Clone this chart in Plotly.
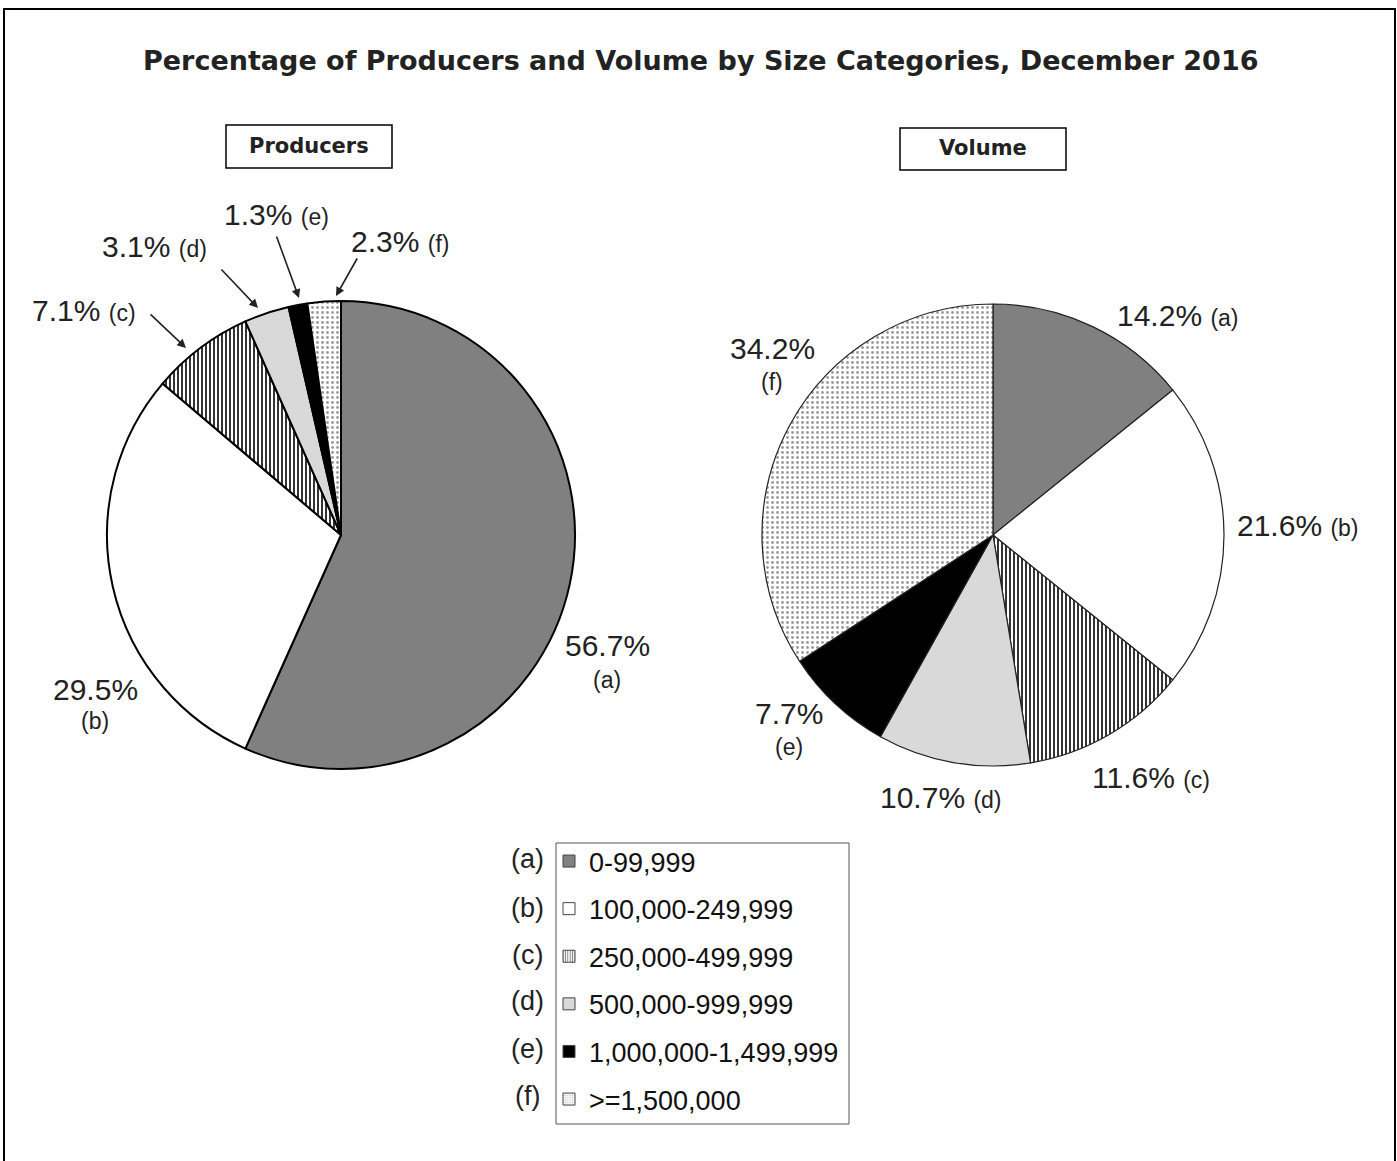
import plotly.graph_objects as go

W, H = 1397, 1161

# ---- data ----
letters = ["a", "b", "c", "d", "e", "f"]
size_labels = ["0-99,999", "100,000-249,999", "250,000-499,999",
               "500,000-999,999", "1,000,000-1,499,999", ">=1,500,000"]
producers_pct = [56.7, 29.5, 7.1, 3.1, 1.3, 2.3]
volume_pct = [14.2, 21.6, 11.6, 10.7, 7.7, 34.2]
chart_title = "Percentage of Producers and Volume by Size Categories, December 2016"
panel_titles = ["Producers", "Volume"]

# ---- styles ----
fill_colors = ["#808080", "#ffffff", "#ffffff", "#d9d9d9", "#000000", "#ffffff"]
pattern_shapes = ["", "", "|", "", "", "."]
pattern_fg = ["#000000", "#000000", "#000000", "#000000", "#000000", "#9a9a9a"]
pattern_size = [5, 5, 4, 5, 5, 5]
pattern_solid = [0.3, 0.3, 0.4, 0.3, 0.3, 0.25]
FONT = "Liberation Sans, Arial, sans-serif"
BOLD_FONT = "DejaVu Sans, Verdana, sans-serif"
TXT = "#222222"


def px(x):
    return x / W


def py(y):
    return 1 - y / H


def make_pie(values, cx, cy, r, lw, lc):
    return go.Pie(
        labels=size_labels, values=values, sort=False, direction="clockwise",
        rotation=0, textinfo="none", hoverinfo="label+percent", showlegend=False,
        domain=dict(x=[px(cx - r), px(cx + r)], y=[py(cy + r), py(cy - r)]),
        marker=dict(colors=fill_colors, line=dict(color=lc, width=lw),
                    pattern=dict(shape=pattern_shapes, fgcolor=pattern_fg,
                                 bgcolor=fill_colors, size=pattern_size,
                                 solidity=pattern_solid)),
    )


fig = go.Figure()
fig.add_trace(make_pie(producers_pct, 341, 535, 234, 2, "#000000"))
fig.add_trace(make_pie(volume_pct, 993, 535, 231, 1.2, "#222222"))

# legend entries (dummy bars so that item spacing can be controlled)
for i, lab in enumerate(size_labels):
    fig.add_trace(go.Bar(
        x=[None], y=[None], name=lab, legendgroup=lab, showlegend=True,
        hoverinfo="skip",
        marker=dict(color=fill_colors[i], line=dict(color="#444444", width=1),
                    pattern=dict(shape=pattern_shapes[i], fgcolor=pattern_fg[i],
                                 bgcolor=fill_colors[i], size=3, solidity=0.4)),
    ))

annotations = []
shapes = []

# outer frame
shapes.append(dict(type="rect", xref="paper", yref="paper",
                   x0=px(4), x1=px(1395), y0=py(1170), y1=py(9),
                   line=dict(color="#000000", width=2)))

# legend frame
shapes.append(dict(type="rect", xref="paper", yref="paper",
                   x0=px(556), x1=px(849), y0=py(1124), y1=py(843),
                   line=dict(color="#555555", width=1)))

# title
annotations.append(dict(text=chart_title, x=px(700), y=py(60),
                        xref="paper", yref="paper", showarrow=False,
                        xanchor="center", yanchor="middle",
                        font=dict(family=BOLD_FONT, size=27, color=TXT, weight="bold")))

# panel title boxes
boxes = [(226, 125, 392, 168), (900, 128, 1066, 170)]
for t, (x0, y0, x1, y1) in zip(panel_titles, boxes):
    shapes.append(dict(type="rect", xref="paper", yref="paper",
                       x0=px(x0), x1=px(x1), y0=py(y1), y1=py(y0),
                       line=dict(color="#000000", width=1.5)))
    annotations.append(dict(text=t, x=px((x0 + x1) / 2),
                            y=py((y0 + y1) / 2 - 1), xref="paper", yref="paper",
                            showarrow=False, xanchor="center", yanchor="middle",
                            font=dict(family=BOLD_FONT, size=21, color=TXT,
                                      weight="bold")))


def one_line(v, l):
    return f"{v:.1f}% <span style='font-size:23px'>({l})</span>"


def add_text(text, x, y, size):
    annotations.append(dict(text=text, x=px(x), y=py(y), xref="paper", yref="paper",
                            showarrow=False, xanchor="center", yanchor="middle",
                            font=dict(family=FONT, size=size, color=TXT)))


# producers labels
two_line_prod = {0: (607, 645, 680), 1: (95, 689, 721)}
one_line_prod = {2: (84, 310), 3: (154, 247), 4: (276, 215), 5: (400, 242)}
for i, (x, y1, y2) in two_line_prod.items():
    add_text(f"{producers_pct[i]:.1f}%", x, y1, 30)
    add_text(f"({letters[i]})", x, y2, 23)
for i, (x, y) in one_line_prod.items():
    add_text(one_line(producers_pct[i], letters[i]), x, y, 30)

# producers arrows (tail -> head)
arrows = [((149, 313), (186, 348)), ((220, 268), (258, 308)),
          ((276, 235), (299, 298)), ((358, 257), (336, 296))]
for (tx, ty), (hx, hy) in arrows:
    annotations.append(dict(text="", x=px(hx), y=py(hy), xref="paper", yref="paper",
                            ax=tx - hx, ay=ty - hy, axref="pixel", ayref="pixel",
                            showarrow=True, arrowhead=2, arrowsize=1.1,
                            arrowwidth=1.6, arrowcolor="#222222", standoff=0))

# volume labels
two_line_vol = {4: (789, 713, 747), 5: (772, 348, 382)}
one_line_vol = {0: (1178, 315), 1: (1298, 525), 2: (1151, 777), 3: (941, 797)}
for i, (x, y1, y2) in two_line_vol.items():
    add_text(f"{volume_pct[i]:.1f}%", x, y1, 30)
    add_text(f"({letters[i]})", x, y2, 23)
for i, (x, y) in one_line_vol.items():
    add_text(one_line(volume_pct[i], letters[i]), x, y, 30)

# legend letters
letter_y = [859, 908, 955, 1001, 1049, 1096]
for l, y in zip(letters, letter_y):
    add_text(f"({l})", 527, y, 27)

fig.update_layout(
    width=W, height=H, margin=dict(l=0, r=0, t=0, b=0),
    paper_bgcolor="white", plot_bgcolor="white",
    font=dict(family=FONT, color=TXT),
    xaxis=dict(visible=False, domain=[0, 0.01]),
    yaxis=dict(visible=False, domain=[0, 0.01]),
    legend=dict(x=px(549), y=py(837), xanchor="left", yanchor="top",
                borderwidth=0, bgcolor="rgba(0,0,0,0)",
                font=dict(family=FONT, size=27, color="#111111"),
                tracegroupgap=9.5, itemwidth=30, traceorder="grouped"),
    annotations=annotations, shapes=shapes,
)

fig.write_html("out.html", config={"displayModeBar": False},
               post_script="document.body.style.margin='0';document.body.style.overflow='hidden';")
